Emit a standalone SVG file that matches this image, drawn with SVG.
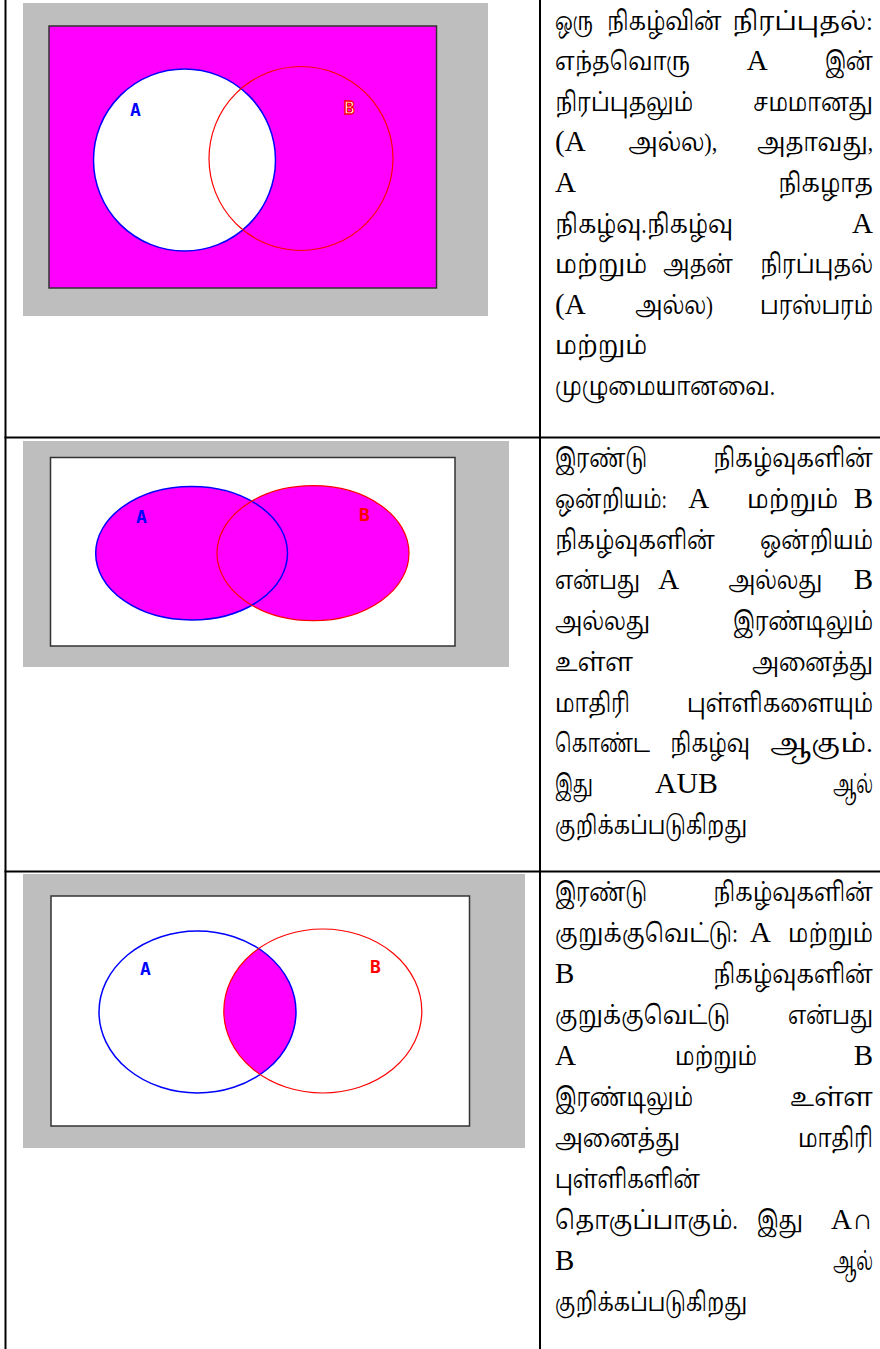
<svg xmlns="http://www.w3.org/2000/svg" width="880" height="1349" viewBox="0 0 880 1349">
<style>
.grid{stroke:#000;stroke-width:2;fill:none}
.gray{fill:#bebebe}
.frame{stroke:#333;stroke-width:1.5}
.ca{stroke:#0000ff;stroke-width:1.5}
.cb{stroke:#ff0000;stroke-width:1.2}
.lbl{font-family:"DejaVu Sans Mono",monospace;font-weight:bold;font-size:18px}
.t text{font-family:"Liberation Serif","Noto Serif Tamil","Noto Sans Tamil","Lohit Tamil",serif;font-size:26px;fill:#000}
.t text.l{font-size:29px}
.e{text-anchor:end}
</style>
<defs>
<clipPath id="clipA3"><ellipse cx="197.5" cy="1012" rx="98.5" ry="81"/></clipPath>
</defs>
<g id="table" class="grid">
<line x1="5.5" y1="0" x2="5.5" y2="1349"/>
<line x1="540" y1="0" x2="540" y2="1349"/>
<line x1="4.5" y1="437.5" x2="880" y2="437.5"/>
<line x1="4.5" y1="871.5" x2="880" y2="871.5"/>
</g>
<g id="venn-complement">
<rect class="gray" x="23" y="3" width="465" height="313"/>
<rect class="frame" x="49" y="26" width="387.5" height="262" fill="#ff00ff"/>
<circle class="ca" cx="184.5" cy="160" r="91" fill="#fff"/>
<circle class="cb" cx="301" cy="158.5" r="92" fill="none"/>
<text class="lbl" x="130" y="116" fill="#0000ff" font-size="20">A</text>
<text class="lbl" x="344" y="114" fill="#fff" stroke="#ff0000" stroke-width="1.3" font-size="20">B</text>
</g>
<g id="venn-union">
<rect class="gray" x="23" y="441" width="486" height="226"/>
<rect class="frame" x="50.5" y="457.5" width="404.5" height="188.5" fill="#fff"/>
<ellipse cx="191.6" cy="553.3" rx="95.9" ry="66.7" fill="#ff00ff"/>
<ellipse cx="313" cy="553.2" rx="96" ry="67.5" fill="#ff00ff"/>
<ellipse class="ca" cx="191.6" cy="553.3" rx="95.9" ry="66.7" fill="none"/>
<ellipse class="cb" cx="313" cy="553.2" rx="96" ry="67.5" fill="none"/>
<text class="lbl" x="136" y="523" fill="#0000ff">A</text>
<text class="lbl" x="359" y="521" fill="#ff0000">B</text>
</g>
<g id="venn-intersection">
<rect class="gray" x="23" y="874" width="502" height="274"/>
<rect class="frame" x="51" y="896" width="418.5" height="230" fill="#fff"/>
<ellipse cx="322.8" cy="1011" rx="99" ry="82" fill="#ff00ff" clip-path="url(#clipA3)"/>
<ellipse class="ca" cx="197.5" cy="1012" rx="98.5" ry="81" fill="none"/>
<ellipse class="cb" cx="322.8" cy="1011" rx="99" ry="82" fill="none"/>
<text class="lbl" x="140" y="975" fill="#0000ff">A</text>
<text class="lbl" x="370" y="973" fill="#ff0000">B</text>
</g>
<g id="text-complement" class="t">
<text x="555" y="29.5" textLength="38" lengthAdjust="spacingAndGlyphs">ஒரு</text><text x="606.7" y="29.5" textLength="115" lengthAdjust="spacingAndGlyphs">நிகழ்வின்</text><text x="732" y="29.5" textLength="141" lengthAdjust="spacingAndGlyphs">நிரப்புதல்:</text>
<text x="555" y="70" textLength="135" lengthAdjust="spacingAndGlyphs">எந்தவொரு</text><text class="l" x="746.7" y="70">A</text><text x="825" y="70" textLength="48" lengthAdjust="spacingAndGlyphs">இன்</text>
<text x="555" y="110.7" textLength="138" lengthAdjust="spacingAndGlyphs">நிரப்புதலும்</text><text x="753" y="110.7" textLength="120" lengthAdjust="spacingAndGlyphs">சமமானது</text>
<text class="l" x="555" y="151.3">(A</text><text x="628.3" y="151.3" textLength="89" lengthAdjust="spacingAndGlyphs">அல்ல),</text><text x="757" y="151.3" textLength="116" lengthAdjust="spacingAndGlyphs">அதாவது,</text>
<text class="l" x="555" y="192">A</text><text x="778" y="192" textLength="95" lengthAdjust="spacingAndGlyphs">நிகழாத</text>
<text x="555" y="232.5" textLength="178" lengthAdjust="spacingAndGlyphs">நிகழ்வு.நிகழ்வு</text><text class="l e" x="873" y="232.5">A</text>
<text x="555" y="273" textLength="92" lengthAdjust="spacingAndGlyphs">மற்றும்</text><text x="663" y="273" textLength="70" lengthAdjust="spacingAndGlyphs">அதன்</text><text x="760" y="273" textLength="113" lengthAdjust="spacingAndGlyphs">நிரப்புதல்</text>
<text class="l" x="555" y="313.7">(A</text><text x="635" y="313.7" textLength="78" lengthAdjust="spacingAndGlyphs">அல்ல)</text><text x="760" y="313.7" textLength="113" lengthAdjust="spacingAndGlyphs">பரஸ்பரம்</text>
<text x="555" y="354.3" textLength="92" lengthAdjust="spacingAndGlyphs">மற்றும்</text>
<text x="555" y="395" textLength="220" lengthAdjust="spacingAndGlyphs">முழுமையானவை.</text>
</g>
<g id="text-union" class="t">
<text x="555" y="467.3" textLength="92" lengthAdjust="spacingAndGlyphs">இரண்டு</text><text x="713" y="467.3" textLength="160" lengthAdjust="spacingAndGlyphs">நிகழ்வுகளின்</text>
<text x="555" y="508" textLength="112" lengthAdjust="spacingAndGlyphs">ஒன்றியம்:</text><text class="l" x="688.3" y="508">A</text><text x="747" y="508" textLength="91" lengthAdjust="spacingAndGlyphs">மற்றும்</text><text class="l e" x="873" y="508">B</text>
<text x="555" y="548.7" textLength="160" lengthAdjust="spacingAndGlyphs">நிகழ்வுகளின்</text><text x="760" y="548.7" textLength="113" lengthAdjust="spacingAndGlyphs">ஒன்றியம்</text>
<text x="555" y="589.4" textLength="85" lengthAdjust="spacingAndGlyphs">என்பது</text><text class="l" x="658.3" y="589.4">A</text><text x="728.3" y="589.4" textLength="94" lengthAdjust="spacingAndGlyphs">அல்லது</text><text class="l e" x="873" y="589.4">B</text>
<text x="555" y="630" textLength="95" lengthAdjust="spacingAndGlyphs">அல்லது</text><text x="733" y="630" textLength="140" lengthAdjust="spacingAndGlyphs">இரண்டிலும்</text>
<text x="555" y="670.8" textLength="78" lengthAdjust="spacingAndGlyphs">உள்ள</text><text x="752" y="670.8" textLength="121" lengthAdjust="spacingAndGlyphs">அனைத்து</text>
<text x="555" y="711.5" textLength="75" lengthAdjust="spacingAndGlyphs">மாதிரி</text><text x="687" y="711.5" textLength="186" lengthAdjust="spacingAndGlyphs">புள்ளிகளையும்</text>
<text x="555" y="752" textLength="95" lengthAdjust="spacingAndGlyphs">கொண்ட</text><text x="670" y="752" textLength="80" lengthAdjust="spacingAndGlyphs">நிகழ்வு</text><text x="770" y="752" textLength="103" lengthAdjust="spacingAndGlyphs">ஆகும்.</text>
<text x="555" y="793" textLength="38" lengthAdjust="spacingAndGlyphs">இது</text><text class="l" x="655" y="793" textLength="63" lengthAdjust="spacingAndGlyphs">AUB</text><text x="833" y="793" textLength="40" lengthAdjust="spacingAndGlyphs">ஆல்</text>
<text x="555" y="833.6" textLength="192" lengthAdjust="spacingAndGlyphs">குறிக்கப்படுகிறது</text>
</g>
<g id="text-intersection" class="t">
<text x="555" y="901" textLength="92" lengthAdjust="spacingAndGlyphs">இரண்டு</text><text x="713" y="901" textLength="160" lengthAdjust="spacingAndGlyphs">நிகழ்வுகளின்</text>
<text x="555" y="942" textLength="183" lengthAdjust="spacingAndGlyphs">குறுக்குவெட்டு:</text><text class="l" x="750" y="942">A</text><text x="788" y="942" textLength="85" lengthAdjust="spacingAndGlyphs">மற்றும்</text>
<text class="l" x="555" y="983">B</text><text x="713" y="983" textLength="160" lengthAdjust="spacingAndGlyphs">நிகழ்வுகளின்</text>
<text x="555" y="1024" textLength="175" lengthAdjust="spacingAndGlyphs">குறுக்குவெட்டு</text><text x="788" y="1024" textLength="85" lengthAdjust="spacingAndGlyphs">என்பது</text>
<text class="l" x="555" y="1065">A</text><text x="675" y="1065" textLength="82" lengthAdjust="spacingAndGlyphs">மற்றும்</text><text class="l e" x="873" y="1065">B</text>
<text x="555" y="1106" textLength="138" lengthAdjust="spacingAndGlyphs">இரண்டிலும்</text><text x="790" y="1106" textLength="83" lengthAdjust="spacingAndGlyphs">உள்ள</text>
<text x="555" y="1147" textLength="125" lengthAdjust="spacingAndGlyphs">அனைத்து</text><text x="798" y="1147" textLength="75" lengthAdjust="spacingAndGlyphs">மாதிரி</text>
<text x="555" y="1188" textLength="145" lengthAdjust="spacingAndGlyphs">புள்ளிகளின்</text>
<text x="555" y="1229" textLength="183" lengthAdjust="spacingAndGlyphs">தொகுப்பாகும்.</text><text x="757" y="1229" textLength="46" lengthAdjust="spacingAndGlyphs">இது</text><text class="l e" x="873" y="1229">A∩</text>
<text class="l" x="555" y="1270">B</text><text x="833" y="1270" textLength="40" lengthAdjust="spacingAndGlyphs">ஆல்</text>
<text x="555" y="1311" textLength="192" lengthAdjust="spacingAndGlyphs">குறிக்கப்படுகிறது</text>
</g>
</svg>
